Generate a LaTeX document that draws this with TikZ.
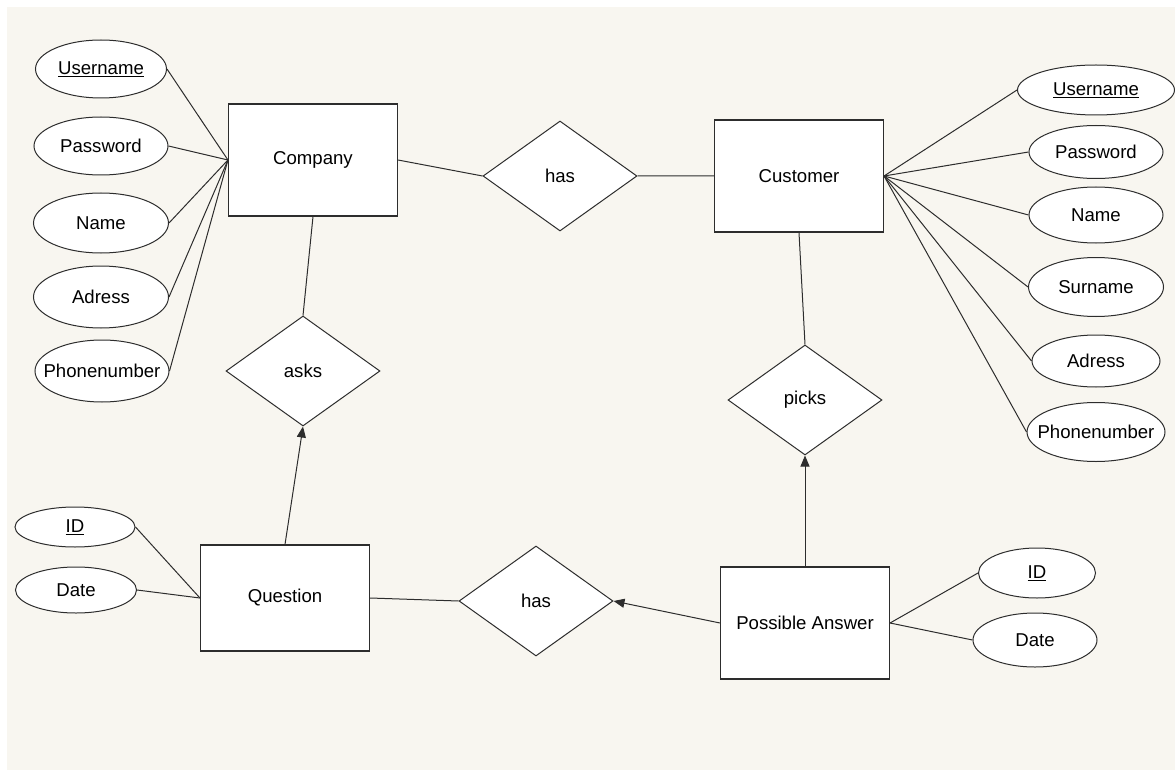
\documentclass[tikz,border=0pt]{standalone}
\usepackage{fontspec}
\setmainfont{Liberation Sans}
\usetikzlibrary{shapes,arrows.meta,positioning}
\definecolor{paper}{RGB}{248,246,240}
\definecolor{ink}{RGB}{45,45,45}
\newcommand\fld[1]{\makebox[0pt]{#1}} % text that does not widen the ellipse
\tikzset{>={Triangle[length=11pt,width=9pt]}, % filled arrow heads
x=1pt, y=-1pt, % one unit is one pixel of the sketch
every node/.style={font=\fontsize{18.6pt}{22pt}\selectfont},
entity/.style={draw=ink, line width=1.1pt, fill=white, minimum width=169pt, minimum height=112pt, inner sep=0pt}, % entity boxes
attr/.style={ellipse, draw=ink, line width=1pt, fill=white, inner sep=0pt}, % attributes
rel/.style={diamond, draw=ink, line width=1pt, fill=white, minimum width=154pt, minimum height=110pt, inner sep=0pt}, % relations
link/.style={draw=ink, line width=1pt},
}

\begin{document}
\begin{tikzpicture}
\useasboundingbox (0,0) rectangle (1175,770);
\fill[paper] (7,7) rectangle (1175,770);

% entities
\node[entity] (company) at (313,160) {Company};
\node[entity] (customer) at (799,176) {Customer};
\node[entity, minimum height=106pt] (question) at (285,598) {Question};
\node[entity] (answer) at (805,623) {Possible Answer};

% relations
\node[rel] (has) at (560,176) {has};
\node[rel] (asks) at (303,371) {asks};
\node[rel] (picks) at (805,400) {picks};
\node[rel] (has2) at (536,601) {has};

% company attributes
\node[attr, minimum width=131pt, minimum height=58pt] (cuser) at (101,69) {\fld{\underline{Username}}};
\node[attr, minimum width=134pt, minimum height=58pt] (cpass) at (101,146) {\fld{Password}};
\node[attr, minimum width=135pt, minimum height=60pt] (cname) at (101,223) {\fld{Name}};
\node[attr, minimum width=135pt, minimum height=62pt] (caddr) at (101,297) {\fld{Adress}};
\node[attr, minimum width=134pt, minimum height=62pt] (cphone) at (102,371) {\fld{Phonenumber}};

% customer attributes
\node[attr, minimum width=157pt, minimum height=50pt] (kuser) at (1096,90) {\fld{\underline{Username}}};
\node[attr, minimum width=134pt, minimum height=53pt] (kpass) at (1096,152) {\fld{Password}};
\node[attr, minimum width=134pt, minimum height=56pt] (kname) at (1096,215) {\fld{Name}};
\node[attr, minimum width=135pt, minimum height=59pt] (ksur) at (1096,287) {\fld{Surname}};
\node[attr, minimum width=128pt, minimum height=52pt] (kaddr) at (1096,361) {\fld{Adress}};
\node[attr, minimum width=138pt, minimum height=59pt] (kphone) at (1096,432) {\fld{Phonenumber}};

% question attributes
\node[attr, minimum width=120pt, minimum height=40pt] (qid) at (75,527) {\fld{\underline{ID}}};
\node[attr, minimum width=121pt, minimum height=46pt] (qdate) at (76,590) {\fld{Date}};

% answer attributes
\node[attr, minimum width=117pt, minimum height=50pt] (aid) at (1037,573) {\fld{\underline{ID}}};
\node[attr, minimum width=124pt, minimum height=54pt] (adate) at (1035,640) {\fld{Date}};

\draw[link] (company.east) -- (has.west)
(has.east) -- (customer.west)
(company.south) -- (asks.north)
(customer.south) -- (picks.north)
(question.east) -- (has2.west);
\draw[link, ->] (question.north) -- (asks.south);
\draw[link, ->] (answer.north) -- (picks.south);
\draw[link, ->] (answer.west) -- (has2.east);

\foreach \a in {cuser,cpass,cname,caddr,cphone}
  \draw[link] (\a.east) -- (company.west);
\foreach \a in {kuser,kpass,kname,ksur,kaddr,kphone}
  \draw[link] (\a.west) -- (customer.east);
\foreach \a in {qid,qdate}
  \draw[link] (\a.east) -- (question.west);
\foreach \a in {aid,adate}
  \draw[link] (\a.west) -- (answer.east);
\end{tikzpicture}
\end{document}
